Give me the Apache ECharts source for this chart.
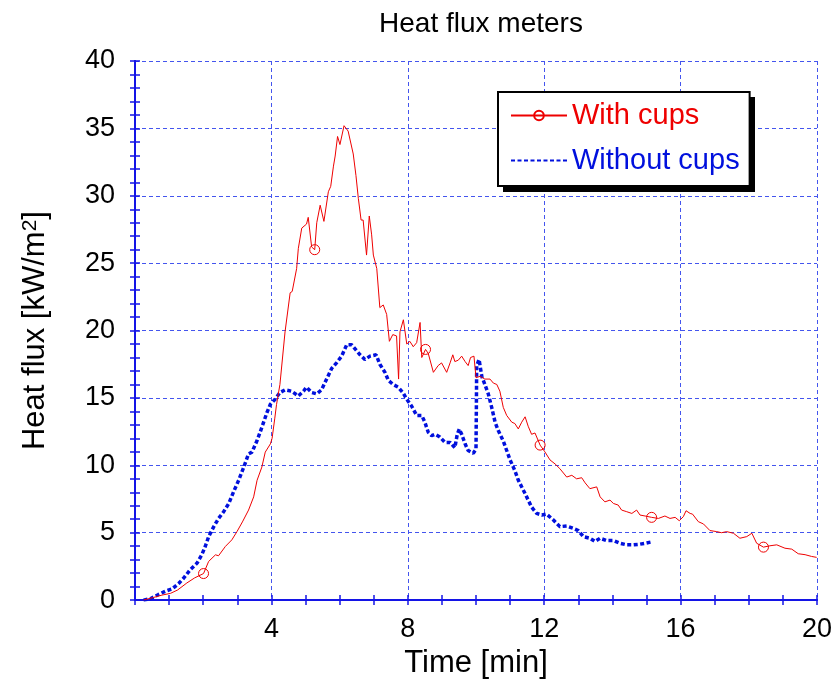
<!DOCTYPE html>
<html>
<head>
<meta charset="utf-8">
<script src="https://cdn.jsdelivr.net/npm/echarts@6/dist/echarts.min.js"></script>
<style>html,body{margin:0;padding:0;background:#fff}#c{width:836px;height:684px}</style>
</head>
<body>
<div id="c"></div>
<script>
// ---- data ----
const titleText = 'Heat flux meters';
const xName = 'Time [min]';
const seriesNames = ['With cups', 'Without cups'];
const xTicks = [0, 4, 8, 12, 16, 20];
const yTicks = [0, 5, 10, 15, 20, 25, 30, 35, 40];

const withCupsT = [0.25,0.55,0.79,1.04,1.25,1.52,1.75,2.01,2.16,2.36,2.45,2.65,2.84,2.99,3.15,3.33,3.48,3.58,3.72,3.82,3.97,4.02,4.10,4.15,4.25,4.40,4.55,4.61,4.74,4.79,4.89,5.03,5.08,5.18,5.27,5.33,5.43,5.54,5.67,5.74,5.82,5.87,5.94,6.01,6.13,6.25,6.40,6.48,6.55,6.63,6.69,6.79,6.87,6.94,6.99,7.09,7.18,7.28,7.38,7.46,7.56,7.67,7.73,7.77,7.87,7.97,8.06,8.16,8.26,8.36,8.41,8.52,8.60,8.75,8.89,8.99,9.14,9.24,9.32,9.38,9.48,9.58,9.68,9.77,9.84,9.94,10.00,10.12,10.26,10.41,10.51,10.61,10.70,10.80,10.90,11.05,11.14,11.24,11.34,11.44,11.53,11.63,11.73,11.88,12.02,12.17,12.32,12.46,12.66,12.81,12.95,13.10,13.20,13.34,13.54,13.64,13.78,13.93,14.03,14.17,14.27,14.42,14.57,14.71,14.81,14.96,15.15,15.35,15.54,15.69,15.84,15.96,16.08,16.16,16.28,16.35,16.52,16.67,16.86,17.06,17.20,17.35,17.55,17.74,17.94,18.09,18.23,18.43,18.62,18.82,19.06,19.26,19.45,19.65,19.84,19.99];
const withCupsV = [0,0.2,0.37,0.5,0.75,1.27,1.65,1.97,2.87,3.36,3.29,3.98,4.47,5.08,5.8,6.68,7.66,8.89,9.87,10.98,11.59,12.0,13.5,14.5,16.0,19.9,22.8,22.9,24.6,26.1,27.6,27.9,28.4,26.2,26.0,28.0,29.3,28.1,30.3,30.7,32.2,32.95,34.4,33.8,35.2,34.8,33.1,31.5,29.8,28.2,28.2,25.6,28.5,27.1,25.6,24.6,21.7,21.9,21.2,19.2,19.7,19.6,16.4,19.9,20.8,19.0,19.2,18.8,19.1,20.6,18.0,18.6,18.3,16.9,17.4,17.6,16.9,17.6,18.2,17.7,17.8,18.1,17.7,17.4,18.0,18.1,16.5,16.6,16.4,16.4,16.1,16.0,15.5,14.3,13.7,13.2,13.1,12.7,13.2,13.6,12.9,12.3,12.4,11.5,11.0,10.4,10.1,9.75,9.13,9.26,9.0,9.08,8.7,8.27,8.4,7.66,7.29,7.42,7.17,7.05,6.68,6.56,6.43,6.68,6.31,6.24,6.14,6.06,6.24,6.06,6.14,5.89,6.19,6.63,6.43,6.38,5.82,5.65,5.16,5.08,5.0,5.08,4.96,4.59,4.71,4.96,4.22,3.93,4.03,4.10,3.85,3.78,3.44,3.37,3.24,3.17];
const withCupsMarkerT = [2.01, 5.27, 8.52, 11.88, 15.15, 18.43];

const withoutCupsT = [0.25,0.45,0.69,0.89,1.09,1.28,1.43,1.62,1.82,1.96,2.06,2.16,2.31,2.45,2.60,2.75,2.89,3.04,3.19,3.33,3.43,3.58,3.72,3.87,3.97,4.11,4.25,4.40,4.59,4.79,4.94,5.03,5.18,5.33,5.47,5.62,5.77,5.91,6.06,6.21,6.35,6.50,6.60,6.74,6.89,7.07,7.18,7.33,7.43,7.57,7.72,7.87,7.97,8.11,8.26,8.41,8.50,8.60,8.70,8.80,8.94,9.09,9.24,9.38,9.45,9.51,9.58,9.68,9.77,9.92,10.00,10.01,10.02,10.09,10.17,10.26,10.36,10.46,10.56,10.65,10.80,10.90,11.00,11.14,11.24,11.44,11.63,11.78,11.93,12.07,12.27,12.46,12.66,12.85,13.00,13.15,13.34,13.49,13.64,13.83,14.03,14.22,14.42,14.61,14.81,14.96,15.15];
const withoutCupsV = [0,0.1,0.42,0.66,0.83,1.23,1.64,2.26,2.75,3.37,3.98,4.71,5.45,6.06,6.56,7.17,8.03,8.89,9.87,10.85,10.98,11.84,12.82,13.92,14.53,14.9,15.4,15.6,15.5,15.15,15.5,15.8,15.4,15.3,15.6,16.4,17.2,17.6,18.1,18.95,18.95,18.5,18.2,17.85,18.1,18.2,17.5,16.9,16.3,16.0,15.8,15.35,14.9,14.4,13.7,13.7,13.2,12.45,12.2,12.3,12.1,11.7,11.7,11.3,12.3,12.7,12.3,11.6,11.1,10.9,11.2,14.0,17.4,17.85,16.6,16.0,15.3,14.3,13.2,12.6,11.8,11.1,10.4,9.6,8.9,7.9,6.9,6.43,6.31,6.38,5.94,5.45,5.5,5.33,5.16,4.71,4.59,4.35,4.59,4.42,4.42,4.22,4.10,4.10,4.15,4.22,4.32];

// ---- styling ----
const FONT = '"Liberation Sans", Arial, Helvetica, sans-serif';
const AXIS_BLUE = '#1414e6';
const GRID_BLUE = '#4455ee';
const RED = '#ee0000';
const BLUE = '#0010dd';

const redData = withCupsT.map((t, i) => {
  const item = { value: [t, withCupsV[i]] };
  if (withCupsMarkerT.indexOf(t) < 0) item.symbol = 'none';
  return item;
});
const blueData = withoutCupsT.map((t, i) => [t, withoutCupsV[i]]);

const chart = echarts.init(document.getElementById('c'), null, { renderer: 'canvas' });

const baseX = {
  type: 'value', min: xTicks[0], max: xTicks[xTicks.length - 1], interval: xTicks[1] - xTicks[0],
  axisLine: { show: true, lineStyle: { color: AXIS_BLUE, width: 2 } },
  axisTick: { show: true, inside: true, length: 5, lineStyle: { color: AXIS_BLUE, width: 1.5 } },
  minorTick: { show: true, splitNumber: 4, length: -5, lineStyle: { color: AXIS_BLUE, width: 1.5 } },
};
const baseY = {
  type: 'value', min: yTicks[0], max: yTicks[yTicks.length - 1], interval: yTicks[1] - yTicks[0],
  axisLine: { show: true, lineStyle: { color: AXIS_BLUE, width: 2 } },
  axisTick: { show: true, inside: true, length: 5, lineStyle: { color: AXIS_BLUE, width: 1.5 } },
  minorTick: { show: true, splitNumber: 5, length: -5, lineStyle: { color: AXIS_BLUE, width: 1.5 } },
};

const LEG = { x: 498, y: 92, w: 252, h: 95 };

chart.setOption({
  animation: false,
  backgroundColor: '#fff',
  title: {
    text: titleText, left: 476, top: 5, textAlign: 'center',
    textStyle: { fontFamily: FONT, fontSize: 28, fontWeight: 'normal', color: '#000' }
  },
  graphic: [{
    type: 'rect', z: 3, silent: true,
    shape: { x: LEG.x + 5, y: LEG.y + 5, width: LEG.w, height: LEG.h },
    style: { fill: '#000' }
  }],
  grid: { left: 135, right: 19, top: 61, bottom: 80, containLabel: false },
  legend: {
    orient: 'vertical', left: LEG.x, top: LEG.y, z: 5,
    backgroundColor: '#fff', borderColor: '#000', borderWidth: 2,
    padding: [9, 10, 11, 12], itemGap: 16, itemWidth: 56, itemHeight: 12,
    textStyle: { fontFamily: FONT, fontSize: 29 },
    data: [
      { name: seriesNames[0], textStyle: { color: RED } },
      { name: seriesNames[1], textStyle: { color: BLUE }, itemStyle: { color: 'rgba(0,0,0,0)', borderWidth: 0 } }
    ]
  },
  xAxis: [
    Object.assign({}, baseX, {
      position: 'bottom',
      name: xName, nameLocation: 'middle', nameGap: 45,
      nameTextStyle: { fontFamily: FONT, fontSize: 31, color: '#000' },
      axisLabel: { show: true, margin: 16, fontFamily: FONT, fontSize: 27, color: '#000',
        formatter: v => (v === 0 ? '' : String(v)) },
      splitLine: { show: true, lineStyle: { color: GRID_BLUE, type: [4, 3], width: 1 } }
    }),
    Object.assign({}, baseX, {
      position: 'top', axisLabel: { show: false }, splitLine: { show: false }
    })
  ],
  yAxis: [
    Object.assign({}, baseY, {
      position: 'left',
      name: 'Heat flux [kW/m{sup|2}]', nameLocation: 'middle', nameGap: 84,
      nameTextStyle: { fontFamily: FONT, fontSize: 31, color: '#000',
        rich: { sup: { fontFamily: FONT, fontSize: 21, color: '#000', verticalAlign: 'top', lineHeight: 30, padding: [0, 0, 14, 0] } } },
      axisLabel: { show: true, margin: 20, fontFamily: FONT, fontSize: 27, color: '#000' },
      splitLine: { show: true, lineStyle: { color: GRID_BLUE, type: [4, 3], width: 1 } }
    }),
    Object.assign({}, baseY, {
      position: 'right', axisLabel: { show: false }, splitLine: { show: false }
    })
  ],
  series: [
    {
      name: seriesNames[0], type: 'line', xAxisIndex: 0, yAxisIndex: 0,
      data: redData, symbol: 'circle', symbolSize: 10, showSymbol: true,
      color: RED,
      lineStyle: { color: RED, width: 1 },
      itemStyle: { color: 'rgba(255,255,255,0)', borderColor: RED, borderWidth: 1 },
      z: 3
    },
    {
      name: seriesNames[1], type: 'line', xAxisIndex: 0, yAxisIndex: 0,
      data: blueData, symbol: 'none', showSymbol: false,
      color: BLUE,
      lineStyle: { color: BLUE, width: 3.5, type: [4, 2.5], cap: 'butt' },
      z: 2
    }
  ]
});
</script>
</body>
</html>
